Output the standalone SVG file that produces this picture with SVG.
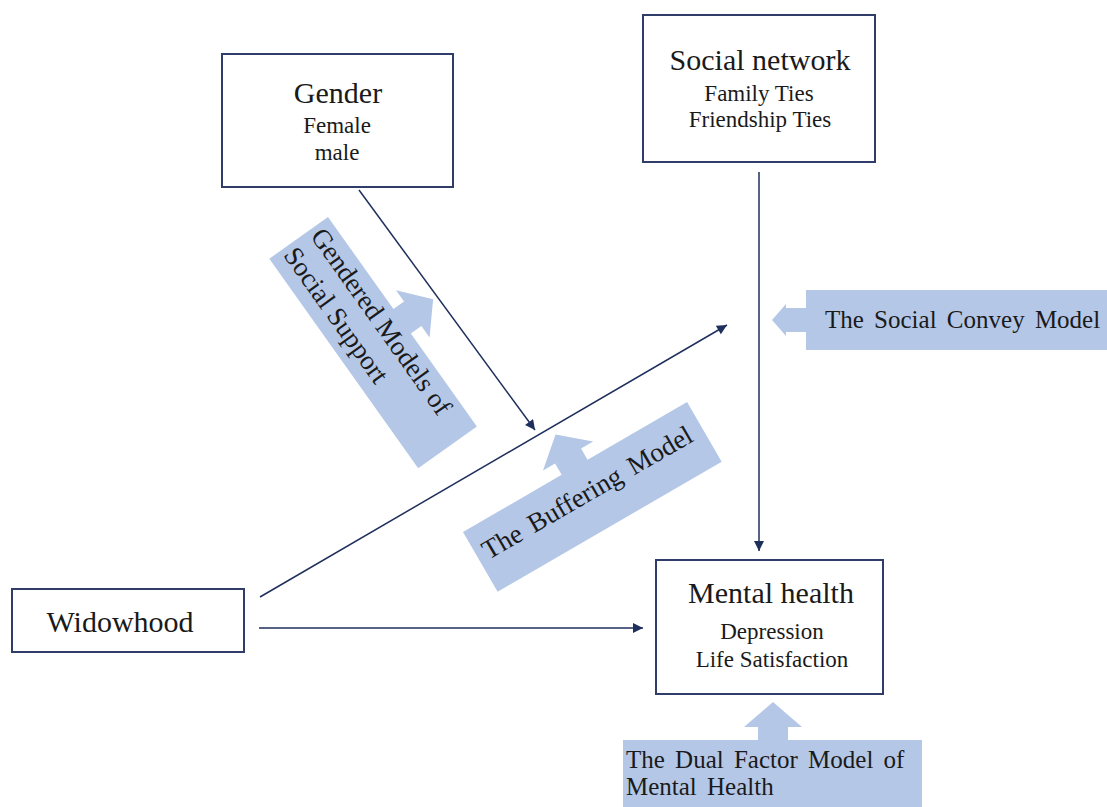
<svg xmlns="http://www.w3.org/2000/svg" width="1107" height="807" viewBox="0 0 1107 807" font-family="'Liberation Serif', 'Times New Roman', serif">
  <style>
    text { font-family: "Liberation Serif", "Times New Roman", serif; fill: #1a1a1a; }
    .box { fill: #ffffff; stroke: #2f3d68; stroke-width: 2; }
    .title { font-size: 30px; text-anchor: middle; }
    .sub { font-size: 23px; text-anchor: middle; }
    .call { fill: #b4c7e7; }
    .calltext { font-size: 27px; }
    .flat { font-size: 25px; word-spacing: 4px; }
    .link { stroke: #1f2f5c; stroke-width: 1.5; fill: none; marker-end: url(#head); }
  </style>
  <defs>
    <marker id="head" viewBox="0 0 10 10" refX="10" refY="5" markerUnits="userSpaceOnUse" markerWidth="11" markerHeight="10" orient="auto">
      <path d="M0,0 L10,5 L0,10 Z" fill="#1f2f5c"/>
    </marker>
  </defs>

  <!-- callout shapes (model labels) -->
  <g id="callout-gendered" transform="translate(328,217) rotate(54.6)">
    <path class="call" d="M0,0 H113 V-13 H99 L128,-38 L157,-13 H143 V0 H257 V72 H0 Z"/>
    <text class="calltext" x="5" y="26">Gendered Models of</text>
    <text class="calltext" x="5" y="59">Social Support</text>
  </g>

  <g id="callout-buffering" transform="translate(463,532) rotate(-30.1)">
    <path class="call" d="M0,0 H114 V-13 H100 L129,-38 L158,-13 H144 V0 H259 V69 H0 Z"/>
    <text class="calltext" x="8" y="37" word-spacing="4">The Buffering Model</text>
  </g>

  <g id="callout-convoy">
    <path class="call" d="M806,290 H1107 V350 H806 V332 H786 V336 L772,320 L786,304 V308 H806 Z"/>
    <text class="calltext flat" x="825" y="328">The Social Convey Model</text>
  </g>

  <g id="callout-dual">
    <path class="call" d="M623,740 H758 V727 H744 L773,702 L802,727 H788 V740 H922 V807 H623 Z"/>
    <text class="calltext flat" x="626" y="768" word-spacing="6">The Dual Factor Model of</text>
    <text class="calltext flat" x="626" y="795">Mental Health</text>
  </g>

  <!-- nodes -->
  <g id="gender">
    <rect class="box" x="222" y="54" width="231" height="133"/>
    <text class="title" x="338" y="103">Gender</text>
    <text class="sub" x="337" y="133">Female</text>
    <text class="sub" x="337" y="160">male</text>
  </g>

  <g id="social-network">
    <rect class="box" x="643" y="15" width="232" height="147"/>
    <text class="title" x="760" y="70">Social network</text>
    <text class="sub" x="759" y="101">Family Ties</text>
    <text class="sub" x="760" y="127">Friendship Ties</text>
  </g>

  <g id="widowhood">
    <rect class="box" x="12" y="589" width="232" height="63"/>
    <text class="title" x="120" y="632">Widowhood</text>
  </g>

  <g id="mental-health">
    <rect class="box" x="656" y="560" width="227" height="134"/>
    <text class="title" x="771" y="603">Mental health</text>
    <text class="sub" x="772" y="639">Depression</text>
    <text class="sub" x="772" y="667">Life Satisfaction</text>
  </g>

  <!-- connectors -->
  <g id="connectors">
    <line class="link" x1="359" y1="190" x2="535" y2="430"/>
    <line class="link" x1="260" y1="597" x2="727" y2="325"/>
    <line class="link" x1="759" y1="172" x2="759" y2="551"/>
    <line class="link" x1="259" y1="628" x2="643" y2="628"/>
  </g>
</svg>
